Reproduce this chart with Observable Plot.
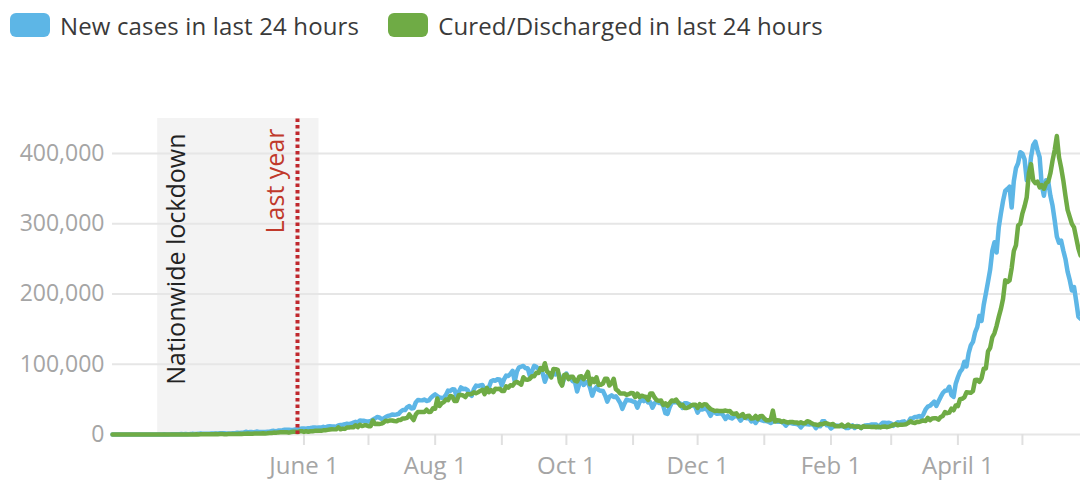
<!DOCTYPE html>
<html>
<head>
<meta charset="utf-8">
<script src="https://cdn.jsdelivr.net/npm/d3@7"></script>
<script src="https://cdn.jsdelivr.net/npm/@observablehq/plot@0.6"></script>
<style>
  body { margin: 0; background: #fff; font-family: "Open Sans", sans-serif; }
  #legend { height: 50px; display: flex; align-items: center; padding-left: 10px; box-sizing: border-box; }
  .item { display: flex; align-items: center; margin-right: 29px; }
  .sw { width: 40px; height: 24px; border-radius: 6px; margin-right: 10px; }
  .lab { font-size: 24px; letter-spacing: 0.15px; color: #3a3a3a; white-space: nowrap; }
  #chart svg { display: block; }
</style>
</head>
<body>
<div id="legend"></div>
<div id="chart"></div>
<script>
// ---- data (values in thousands, one per day starting at startDate) ----
const startDate = "2020-03-04";
const endDate = "2021-05-28";

const newCases = [
  // Mar 2020 (from 4th)
  0,0,0,0,0,0,0,0,0,0,0,0,0,0,0,0,0.1,0.1,0.1,0.1,0.1,0.1,0.1,0.1,0.2,0.1,0.1,0.2,
  // Apr
  0.4,0.4,0.5,0.5,0.6,0.5,0.7,0.5,0.6,0.9,0.8,0.8,0.9,1.5,0.9,1.1,1.0,1.0,1.3,1.5,1.4,1.5,1.7,1.8,1.8,1.6,1.6,1.6,1.9,1.8,
  // May
  2.4,2.3,2.5,2.6,3.9,2.9,3.6,3.4,3.3,4.2,3.6,3.6,3.5,3.7,3.9,3.9,4.9,5.2,4.6,5.6,5.6,6.1,6.7,6.8,6.9,6.5,6.4,7.2,7.3,8.0,8.4,
  // Jun
  8.4,8.2,8.9,9.3,9.8,9.9,9.5,9.9,9.9,11.0,9.9,11.5,11.9,11.5,11.5,10.7,12.9,13.6,14.0,14.5,15.4,14.8,15.7,16.9,18.0,17.3,19.9,19.6,19.5,18.5,
  // Jul
  18.6,19.1,21.0,22.8,24.9,24.2,22.3,22.7,24.9,26.5,27.1,28.6,28.2,28.5,29.4,32.7,34.9,34.8,38.9,40.4,37.1,37.7,45.7,49.3,48.9,48.6,49.9,47.7,48.5,52.1,55.1,
  // Aug
  57.1,54.7,52.9,52.1,52.5,56.3,62.5,62.0,64.4,64.0,53.6,60.9,67.0,64.6,65.0,63.5,57.9,55.1,64.5,69.7,68.9,69.9,70.5,61.4,60.9,67.2,75.8,77.3,76.5,78.8,78.5,
  // Sep
  69.9,78.4,83.9,83.3,86.4,90.6,75.8,89.7,95.7,96.6,97.6,94.4,94.4,83.8,90.1,97.9,96.4,93.3,92.6,86.9,75.1,83.3,86.5,86.1,86.0,85.4,88.6,82.2,70.6,80.5,
  // Oct
  86.8,81.5,79.5,75.8,74.4,61.3,72.0,78.5,70.5,74.4,74.4,66.7,55.3,63.5,67.7,63.4,62.2,61.9,55.7,46.8,54.0,55.8,53.4,54.4,50.1,45.1,36.5,43.9,49.9,48.6,48.3,
  // Nov
  46.9,46.0,38.3,46.3,50.2,47.6,50.4,45.7,45.9,38.1,44.3,47.9,44.9,44.7,41.1,30.5,29.2,38.6,45.6,45.9,46.2,45.2,44.1,37.9,44.4,44.5,43.1,41.3,41.8,38.8,
  // Dec
  31.1,36.6,35.6,36.6,36.7,32.9,26.6,32.1,31.5,29.4,30.0,30.2,27.1,22.1,26.4,24.0,22.8,25.2,26.6,24.3,19.6,24.0,23.9,23.1,23.1,18.7,20.0,16.4,20.6,21.8,20.0,
  // Jan 2021
  19.1,19.1,18.2,16.5,18.1,20.3,18.1,18.1,18.2,16.3,12.6,15.9,16.9,15.6,15.2,15.1,13.8,10.1,13.8,15.2,14.5,14.3,14.8,13.2,9.1,12.7,11.7,18.9,18.9,13.1,13.0,
  // Feb
  8.6,11.0,12.9,12.4,12.4,11.7,11.8,9.1,9.1,11.1,12.9,9.3,12.1,11.6,9.1,11.6,12.9,13.2,13.2,14.3,14.3,14.2,10.6,13.7,16.7,16.6,16.5,16.8,
  // Mar
  15.5,12.3,14.9,17.4,16.8,18.3,18.7,15.4,17.9,22.9,23.3,24.9,25.0,26.3,24.5,28.9,35.9,39.7,40.9,43.8,46.9,40.7,47.3,53.5,59.1,62.3,62.7,68.0,56.2,53.5,72.3,
  // Apr
  81.5,89.1,93.2,103.6,96.9,115.7,126.8,131.9,145.4,152.9,168.9,161.7,184.4,200.7,217.4,234.7,261.5,273.8,259.2,295.0,314.8,332.7,346.8,349.7,352.9,323.1,360.9,379.3,386.5,402.0,
  // May (to 28th)
  400,392,362,368,395,412,417,405,395,355,340,362,360,340,326,305,282,273,276,262,250,232,220,205,210,190,168,165
];

const cured = [
  // Mar 2020 (from 4th)
  0,0,0,0,0,0,0,0,0,0,0,0,0,0,0,0,0,0,0,0,0,0,0,0,0,0,0,0.1,
  // Apr
  0,0,0,0,0,0.1,0.1,0.1,0.1,0.1,0.1,0.2,0.1,0.2,0.2,0.3,0.2,0.3,0.3,0.4,0.7,0.4,0.6,0.7,0.5,0.5,0.7,0.7,0.7,0.6,
  // May
  0.6,1.1,0.7,1.1,1.0,1.5,1.2,1.1,1.4,1.5,1.5,1.4,1.8,1.5,1.8,2.2,2.1,2.7,2.6,3.0,3.2,3.3,3.3,3.3,2.6,3.5,3.9,3.9,3.4,4.6,4.8,
  // Jun
  3.7,4.8,3.8,4.6,4.6,5.2,5.4,5.4,5.2,5.9,6.0,6.6,7.1,7.4,7.3,7.4,10.2,7.4,8.3,8.0,9.9,10.1,10.5,10.4,13.1,10.5,13.8,12.0,13.0,13.1,
  // Jul
  11.9,11.9,20.0,14.9,15.3,14.9,15.5,16.9,19.5,19.0,20.0,19.9,19.2,18.8,20.6,20.8,22.9,22.9,23.7,28.5,24.3,20.6,28.5,32.2,31.9,31.9,32.0,35.3,31.9,32.5,37.4,
  // Aug
  36.6,51.2,40.6,44.3,46.1,49.8,48.9,54.9,53.9,47.7,47.7,56.4,56.4,55.6,53.3,57.6,57.4,57.6,60.1,58.8,60.1,62.3,63.6,57.5,66.5,60.2,63.2,60.2,65.1,64.9,65.3,
  // Sep
  62.0,62.0,68.6,66.7,70.1,69.6,73.6,74.9,73.0,70.9,81.5,78.4,78.0,79.3,82.9,83.0,87.8,87.5,94.6,92.0,101.5,89.7,87.4,81.2,93.4,93.0,92.0,74.9,69.7,84.9,
  // Oct
  85.4,78.9,82.3,82.3,76.7,75.6,82.2,83.0,78.8,82.8,89.1,71.6,79.4,74.6,81.5,70.8,70.8,72.6,79.4,79.4,69.7,73.0,79.4,64.4,62.1,58.4,58.4,58.4,56.5,57.4,59.0,
  // Nov
  58.7,53.3,58.3,53.4,55.3,54.2,53.4,49.1,58.5,58.3,52.7,49.0,47.9,48.4,42.2,44.5,40.8,44.7,48.5,47.5,49.7,45.4,41.0,42.3,37.8,37.8,38.9,41.5,42.3,42.3,
  // Dec
  37.9,43.1,40.7,43.1,42.9,39.1,36.4,35.0,33.5,34.0,33.5,33.5,33.4,34.1,33.2,33.3,29.9,29.3,30.2,25.6,26.9,29.1,24.0,26.5,26.6,22.7,23.0,26.5,21.9,26.0,26.5,
  // Jan 2021
  22.9,20.3,20.3,21.3,34.0,18.4,20.3,20.0,17.9,19.3,17.8,16.9,17.8,17.9,17.1,17.2,15.9,17.4,16.0,16.1,19.0,18.0,16.0,14.5,14.1,13.3,14.9,14.5,15.9,16.0,14.8,
  // Feb
  14.2,14.9,11.8,11.8,11.8,14.0,11.2,11.8,14.2,11.8,11.6,11.4,11.2,11.4,9.2,11.8,11.0,10.9,11.0,10.6,11.0,10.3,11.2,10.0,11.2,11.4,10.5,11.3,
  // Mar
  12.3,13.8,14.9,13.1,14.0,13.9,14.2,14.7,16.6,18.9,17.0,16.5,18.0,17.9,19.0,20.0,19.3,23.6,20.4,22.9,23.0,23.1,21.1,25.0,26.5,32.0,30.4,31.3,36.7,34.5,41.3,
  // Apr
  40.4,50.4,51.0,52.8,60.0,59.9,59.3,61.9,77.6,78.0,75.1,80.0,93.5,94.0,118.3,123.4,138.4,144.2,154.8,167.5,178.8,193.2,219.8,217.1,219.3,237.0,261.2,269.5,297.5,300.0,
  // May (to 28th)
  315,325,338,372,385,362,358,360,352,355,350,358,360,372,390,405,425,395,380,362,340,320,310,300,295,280,265,255
];

const seriesNames = ["New cases in last 24 hours", "Cured/Discharged in last 24 hours"];
const seriesColors = ["#5db6e6", "#6fab45"];
const yTicks = [0, 100000, 200000, 300000, 400000];
const yMax = 450000;
const xTickDates = ["2020-06-01","2020-07-01","2020-08-01","2020-09-01","2020-10-01","2020-11-01",
                    "2020-12-01","2021-01-01","2021-02-01","2021-03-01","2021-04-01","2021-05-01"];
const xTickLabels = ["June 1","","Aug 1","","Oct 1","","Dec 1","","Feb 1","","April 1",""];
const lockdownStart = "2020-03-25";
const lockdownEnd = "2020-06-08";
const lockdownLabel = "Nationwide lockdown";
const lastYearDate = "2020-05-29";
const lastYearLabel = "Last year";

// ---- build ----
const parse = d3.utcParse("%Y-%m-%d");
const start = parse(startDate);
const rows = newCases.map((v, i) => ({
  date: d3.utcDay.offset(start, i),
  cases: v * 1000,
  cured: cured[i] * 1000
}));
const tickDates = xTickDates.map(parse);
const labelOf = new Map(tickDates.map((d, i) => [+d, xTickLabels[i]]));

// legend
const legend = document.getElementById("legend");
seriesNames.forEach((name, i) => {
  const item = document.createElement("div");
  item.className = "item";
  const sw = document.createElement("div");
  sw.className = "sw";
  sw.style.background = seriesColors[i];
  const lab = document.createElement("span");
  lab.className = "lab";
  lab.textContent = name;
  item.append(sw, lab);
  legend.append(item);
});

const chart = Plot.plot({
  width: 1080,
  height: 434,
  marginTop: 68,
  marginBottom: 50,
  marginLeft: 112,
  marginRight: 0,
  style: { fontFamily: "'Open Sans', sans-serif", fontSize: "22px", background: "#fff", overflow: "visible" },
  x: { type: "utc", domain: [parse(startDate), parse(endDate)] },
  y: { domain: [0, yMax] },
  marks: [
    Plot.rect([{}], { x1: parse(lockdownStart), x2: parse(lockdownEnd), y1: 0, y2: yMax, fill: "#f3f3f3" }),
    Plot.ruleY(yTicks, { stroke: "#e6e6e6", strokeWidth: 2 }),
    Plot.axisY({ ticks: yTicks, tickSize: 0, tickPadding: 8, tickFormat: d3.format(","), fill: "#a5a5a5", fontSize: 23, label: null }),
    Plot.axisX({ ticks: tickDates, tickSize: 11, tickPadding: 11, stroke: "#e0e0e0", strokeWidth: 2,
                 tickFormat: d => labelOf.get(+d) ?? "", fill: "#a5a5a5", fontSize: 24, label: null }),
    Plot.lineY(rows, { x: "date", y: "cases", stroke: seriesColors[0], strokeWidth: 4.5, strokeLinejoin: "round" }),
    Plot.lineY(rows, { x: "date", y: "cured", stroke: seriesColors[1], strokeWidth: 4.5, strokeLinejoin: "round" }),
    Plot.ruleX([parse(lastYearDate)], { y1: 0, y2: yMax, stroke: "#c0282d", strokeWidth: 4, strokeDasharray: "3.5,3" }),
    Plot.text([lockdownLabel], { x: parse(lockdownStart), y: yMax, text: d => d, rotate: -90, textAnchor: "end",
                 lineAnchor: "top", dx: 10, dy: 15, fill: "#222", fontSize: 25 }),
    Plot.text([lastYearLabel], { x: parse(lastYearDate), y: yMax, text: d => d, rotate: -90, textAnchor: "end",
                 lineAnchor: "top", dx: -31, dy: 10, fill: "#c0392b", fontSize: 25 })
  ]
});
document.getElementById("chart").append(chart);
</script>
</body>
</html>
